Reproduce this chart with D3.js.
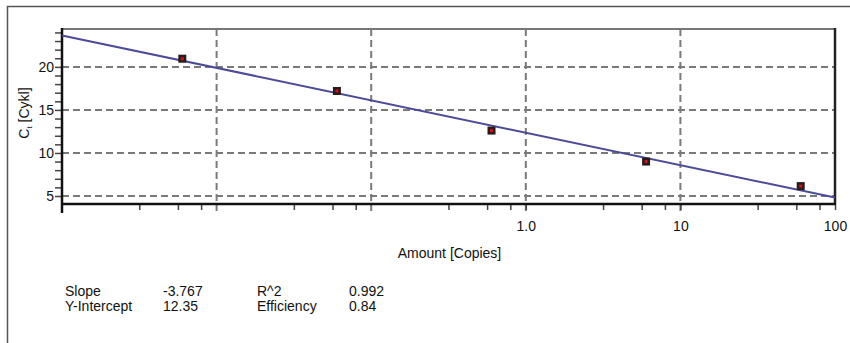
<!DOCTYPE html>
<html>
<head>
<meta charset="utf-8">
<script src="https://cdn.jsdelivr.net/npm/d3@7"></script>
<style>
    html, body { margin: 0; padding: 0; background: #fff; }
    svg { display: block; font-family: "Liberation Sans", Arial, sans-serif; }
    .grid line { stroke: #7a7a7a; stroke-width: 2; stroke-dasharray: 7 4; }
    .stats text { font-size: 14px; fill: #111; }
</style>
</head>
<body>
<div id="chart"></div>
<script>
// --- Data ---
const amounts = [0.006, 0.06, 0.6, 6, 60];
const ctValues = [20.95, 17.2, 12.6, 9.0, 6.15];
const slope = -3.767;
const intercept = 12.35;
const xLabelTicks = [1, 10, 100];
const xLabelText = ['1.0', '10', '100'];
const xGridTicks = [0.01, 0.1, 1, 10];
const xMinorFactors = [3.16, 5.62, 7.94];
const yTicks = [5, 10, 15, 20];
const statRows = [
    ['Slope', '-3.767', 'R^2', '0.992'],
    ['Y-Intercept', '12.35', 'Efficiency', '0.84']
];

const width = 850, height = 343;
const plot = { left: 62, top: 29, right: 835, bottom: 204 };

const svg = d3.select('#chart').append('svg')
    .attr('width', width)
    .attr('height', height);

// outer frame (only left/top edges visible)
svg.append('path')
    .attr('d', `M7.5,${height + 2}V6.5H${width + 2}`)
    .attr('fill', 'none')
    .attr('stroke', '#555')
    .attr('stroke-width', 1.5);

const x = d3.scaleLog().domain([0.001, 100]).range([plot.left, plot.right]);
const y = d3.scaleLinear().domain([4.07, 24.4]).range([plot.bottom, plot.top]);

// --- Grid ---
const grid = svg.append('g').attr('class', 'grid');
grid.selectAll('.hgrid')
    .data(yTicks)
    .enter().append('line')
    .attr('x1', plot.left).attr('x2', plot.right)
    .attr('y1', d => y(d)).attr('y2', d => y(d));
grid.selectAll('.vgrid')
    .data(xGridTicks)
    .enter().append('line')
    .attr('x1', d => x(d)).attr('x2', d => x(d))
    .attr('y1', plot.top).attr('y2', plot.bottom + 7)
    .attr('stroke', '#666');

// top + right border of plot
svg.append('line')
    .attr('x1', plot.left).attr('x2', plot.right)
    .attr('y1', plot.top).attr('y2', plot.top)
    .attr('stroke', '#777').attr('stroke-width', 2);
svg.append('line')
    .attr('x1', plot.right).attr('x2', plot.right)
    .attr('y1', plot.top - 1).attr('y2', plot.bottom)
    .attr('stroke', '#222').attr('stroke-width', 2.5);

// --- Axes ---
const minorY = d3.range(5, 25);
const yAxis = d3.axisLeft(y)
    .tickValues(minorY)
    .tickSize(7)
    .tickFormat(d => yTicks.includes(d) ? d : '');
const yG = svg.append('g')
    .attr('transform', `translate(${plot.left},0)`)
    .call(yAxis);
yG.select('.domain').remove();
yG.selectAll('.tick line').attr('stroke', '#444').attr('stroke-width', 1.5);
yG.selectAll('.tick text').attr('font-size', 14).attr('fill', '#111').attr('x', -8);

const minorX = [];
[0.001, 0.01, 0.1, 1, 10].forEach(dec => xMinorFactors.forEach(f => minorX.push(dec * f)));
const xAxis = d3.axisBottom(x)
    .tickValues(minorX.concat(xLabelTicks))
    .tickSize(6)
    .tickFormat(d => {
        const i = xLabelTicks.indexOf(d);
        return i >= 0 ? xLabelText[i] : '';
    });
const xG = svg.append('g')
    .attr('transform', `translate(0,${plot.bottom})`)
    .call(xAxis);
xG.select('.domain').remove();
xG.selectAll('.tick line').attr('stroke', '#444').attr('stroke-width', 1.5);
xG.selectAll('.tick text').attr('font-size', 14).attr('fill', '#111').attr('y', 17);

// axis lines
svg.append('line')
    .attr('x1', plot.left).attr('x2', plot.left)
    .attr('y1', plot.top - 1).attr('y2', plot.bottom + 9)
    .attr('stroke', '#111').attr('stroke-width', 2.5);
svg.append('line')
    .attr('x1', plot.left - 1).attr('x2', plot.right + 1)
    .attr('y1', plot.bottom).attr('y2', plot.bottom)
    .attr('stroke', '#111').attr('stroke-width', 2.5);

// --- Fit line ---
const fit = x.domain().map(a => [a, slope * Math.log10(a) + intercept]);
svg.append('path')
    .datum(fit)
    .attr('fill', 'none')
    .attr('stroke', '#4b4b98')
    .attr('stroke-width', 2)
    .attr('d', d3.line().x(d => x(d[0])).y(d => y(d[1])));

// --- Points ---
const pts = svg.selectAll('.pt')
    .data(amounts.map((a, i) => [a, ctValues[i]]))
    .enter().append('g')
    .attr('transform', d => `translate(${x(d[0])},${y(d[1])})`);
pts.append('rect')
    .attr('x', -4).attr('y', -4).attr('width', 8).attr('height', 8)
    .attr('fill', '#2a1a1a');
pts.append('rect')
    .attr('x', -1.5).attr('y', -1.5).attr('width', 3).attr('height', 3)
    .attr('fill', '#d0101a');

// --- Titles ---
svg.append('text')
    .attr('x', (plot.left + plot.right) / 2 + 1)
    .attr('y', 258)
    .attr('text-anchor', 'middle')
    .attr('font-size', 14)
    .attr('fill', '#111')
    .text('Amount [Copies]');

const yTitle = svg.append('text')
    .attr('transform', 'translate(29,113) rotate(-90)')
    .attr('text-anchor', 'middle')
    .attr('font-size', 14)
    .attr('fill', '#111');
yTitle.append('tspan').text('C');
yTitle.append('tspan').attr('font-size', 8).attr('dy', 3).text('t');
yTitle.append('tspan').attr('dy', -3).text(' [Cykl]');

// --- Regression stats ---
const colX = [65, 163, 257, 349];
const stats = svg.append('g').attr('class', 'stats');
statRows.forEach((row, r) => {
    stats.selectAll(null)
        .data(row)
        .enter().append('text')
        .attr('x', (d, i) => colX[i])
        .attr('y', 296 + r * 15)
        .text(d => d);
});
</script>
</body>
</html>
